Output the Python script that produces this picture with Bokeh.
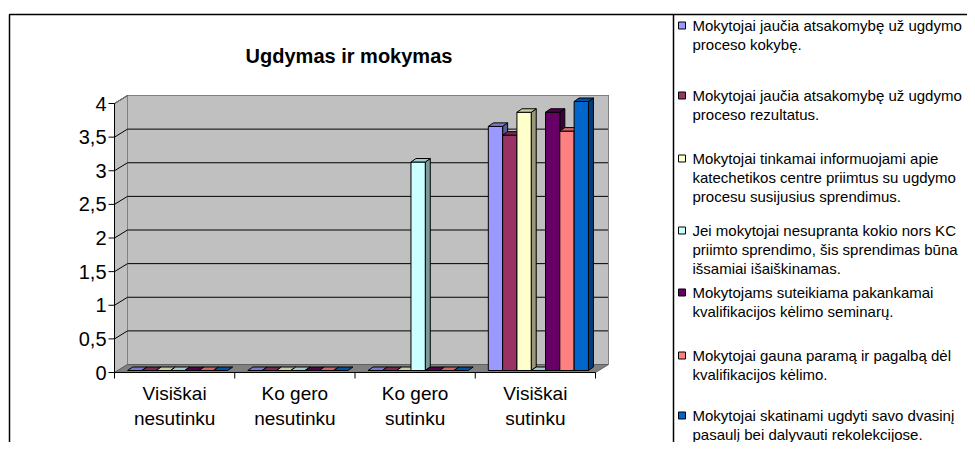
from bokeh.plotting import figure
from bokeh.models import Range1d
from bokeh.core.properties import value
from bokeh.embed import file_html
from bokeh.resources import INLINE

# ---------------- data ----------------
chart_title = "Ugdymas ir mokymas"
categories = ["Visiškai\nnesutinku", "Ko gero\nnesutinku", "Ko gero\nsutinku", "Visiškai\nsutinku"]

series_labels = [
    ["Mokytojai jaučia atsakomybę už ugdymo", "proceso kokybę."],
    ["Mokytojai jaučia atsakomybę už ugdymo", "proceso rezultatus."],
    ["Mokytojai tinkamai informuojami apie", "katechetikos centre priimtus su ugdymo", "procesu susijusius sprendimus."],
    ["Jei mokytojai nesupranta kokio nors KC", "priimto sprendimo, šis sprendimas būna", "išsamiai išaiškinamas."],
    ["Mokytojams suteikiama pakankamai", "kvalifikacijos kėlimo seminarų."],
    ["Mokytojai gauna paramą ir pagalbą dėl", "kvalifikacijos kėlimo."],
    ["Mokytojai skatinami ugdyti savo dvasinį", "pasaulį bei dalyvauti rekolekcijose."],
]

s1 = [0, 0, 0, 3.63]
s2 = [0, 0, 0, 3.5]
s3 = [0, 0, 0, 3.84]
s4 = [0, 0, 3.1, 0]
s5 = [0, 0, 0, 3.84]
s6 = [0, 0, 0, 3.56]
s7 = [0, 0, 0, 4.0]
series_values = [s1, s2, s3, s4, s5, s6, s7]

colors = ["#9999FF", "#993366", "#FFFFCC", "#CCFFFF", "#660066", "#FF8080", "#0066CC"]

y_ticks = [0, 0.5, 1, 1.5, 2, 2.5, 3, 3.5, 4]
y_tick_labels = ["0", "0,5", "1", "1,5", "2", "2,5", "3", "3,5", "4"]

# ---------------- layout (pixels in the picture) ----------------
W, H = 967, 442
OFF = 0.0                    # picture offset of the canvas
X0P, X4P = 114.0, 595.0      # front plane: category axis ends
Y0P, Y4P = 372.0, 103.0      # front plane: value 0 and value 4
U = (X4P - X0P) / 4.0
V = (Y0P - Y4P) / 4.0


def px(xp):
    return (xp - X0P) / U


def py(yp):
    return (Y0P - yp) / V


def shade(hexc, f):
    h = hexc.lstrip("#")
    r, g, b = int(h[0:2], 16), int(h[2:4], 16), int(h[4:6], 16)
    return "#%02x%02x%02x" % (int(r * f), int(g * f), int(b * f))


p = figure(width=W, height=H,
           x_range=Range1d(px(OFF), px(OFF + W)), y_range=Range1d(py(OFF + H), py(OFF)),
           output_backend="svg", toolbar_location=None, min_border=0,
           x_axis_location=None, y_axis_location=None,
           outline_line_color=None, background_fill_color="white",
           border_fill_color="white")
p.grid.visible = False

FONT = value("Liberation Sans")
ncat = len(categories)
vmax = y_ticks[-1]

# 3D depth of walls
D = 13 / U
DY = 8 / V

# back wall
p.patch([D, ncat + D, ncat + D, D], [DY, DY, vmax + DY, vmax + DY],
        fill_color="#C0C0C0", line_color="#808080", line_width=1)
# left side wall
p.patch([0, D, D, 0], [0, DY, vmax + DY, vmax],
        fill_color="#C0C0C0", line_color="#808080", line_width=1)
# floor
p.patch([0, ncat, ncat + D, D], [0, 0, DY, DY],
        fill_color="#808080", line_color="#606060", line_width=1)

# gridlines on back wall and left wall
grid_vals = [t for t in y_ticks if t > 0]
p.segment(x0=[D] * len(grid_vals), y0=[t + DY for t in grid_vals],
          x1=[ncat + D] * len(grid_vals), y1=[t + DY for t in grid_vals],
          line_color="black", line_width=1)
p.segment(x0=[0] * len(grid_vals), y0=grid_vals,
          x1=[D] * len(grid_vals), y1=[t + DY for t in grid_vals],
          line_color="black", line_width=1)
# top / right edges of back wall in gray
p.line([0, D, ncat + D, ncat + D], [vmax, vmax + DY, vmax + DY, DY],
       line_color="#808080", line_width=1)

# axes lines and ticks
p.line([0, 0], [0, vmax], line_color="black", line_width=1)
p.line([0, ncat], [0, 0], line_color="black", line_width=1)
p.segment(x0=[px(108)] * len(y_ticks), y0=y_ticks, x1=[0] * len(y_ticks), y1=y_ticks,
          line_color="black", line_width=1)
cat_edges = list(range(ncat + 1))
p.segment(x0=cat_edges, y0=[0] * len(cat_edges), x1=cat_edges, y1=[py(378)] * len(cat_edges),
          line_color="black", line_width=1)

# y tick labels
p.text(x=[px(106)] * len(y_ticks), y=y_ticks, text=y_tick_labels,
       text_font=FONT, text_font_size="20px", text_align="right",
       text_baseline="middle", text_color="black")

# category labels (two lines)
lx, ly, lt = [], [], []
for c, lab in enumerate(categories):
    for k, line in enumerate(lab.split("\n")):
        lx.append(c + 0.5)
        ly.append(py(393 + 25 * k))
        lt.append(line)
p.text(x=lx, y=ly, text=lt, text_font=FONT, text_font_size="19px",
       text_align="center", text_baseline="middle", text_color="black")

# bars (3D columns)
nser = len(series_values)
bw = 14.3 / U          # bar width
bdx = 5.0 / U          # bar depth x
bdy = 3.5 / V          # bar depth y
sx = 3.0 / U           # shift of bar row into the depth
sy = 2.0 / V
for c in range(ncat):
    for i in range(nser):
        v = series_values[i][c]
        col = colors[i]
        xl = c + 0.5 - nser * bw / 2 + i * bw + sx
        xr = xl + bw
        yb = sy
        yt = sy + v
        if v > 0:
            p.patch([xr, xr + bdx, xr + bdx, xr], [yb, yb + bdy, yt + bdy, yt],
                    fill_color=shade(col, 0.6), line_color="black", line_width=1)
            p.patch([xl, xr, xr, xl], [yb, yb, yt, yt],
                    fill_color=col, line_color="black", line_width=1)
        p.patch([xl, xr, xr + bdx, xl + bdx], [yt, yt, yt + bdy, yt + bdy],
                fill_color=shade(col, 0.8), line_color="black", line_width=1)

# title
p.text(x=[px(348.5)], y=[py(55)], text=[chart_title], text_font=FONT,
       text_font_size="20px", text_font_style="bold", text_align="center",
       text_baseline="middle", text_color="black")

# chart area border and legend box border
p.line([px(9), px(9), px(990)], [py(470), py(14), py(14)], line_color="black", line_width=1.5)
p.line([px(673), px(673)], [py(14), py(470)], line_color="black", line_width=1.5)

# legend
entry_y = [25, 95, 158, 230, 292, 355, 415]
line_gap = 18.8
for i, lines in enumerate(series_labels):
    y0 = entry_y[i]
    p.rect(x=[px(681.5)], y=[py(y0)], width=7, height=7, width_units="screen",
           height_units="screen", fill_color=colors[i], line_color="black", line_width=1)
    p.text(x=[px(692)] * len(lines), y=[py(y0 + line_gap * k) for k in range(len(lines))],
           text=lines, text_font=FONT, text_font_size="15px", text_align="left",
           text_baseline="middle", text_color="black")

open("out.html", "w").write(file_html(p, INLINE))
